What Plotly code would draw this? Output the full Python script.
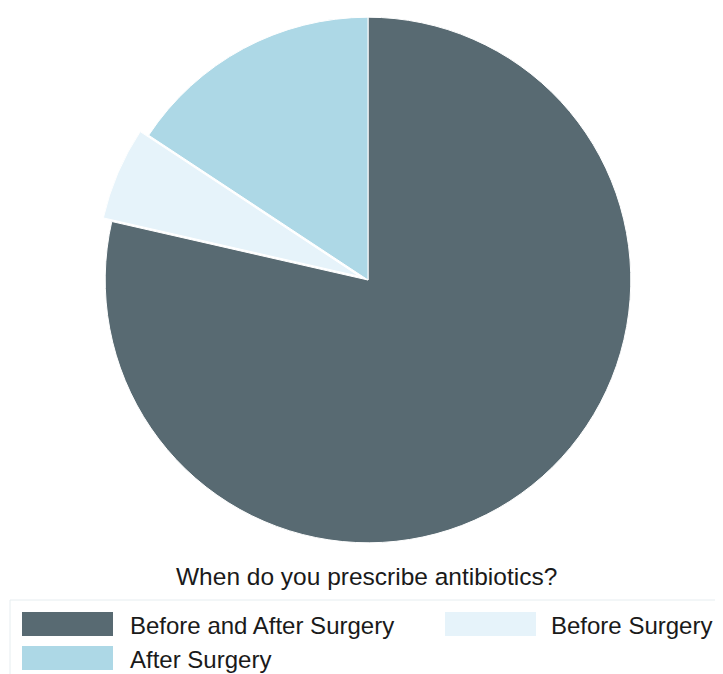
import plotly.graph_objects as go

W, H = 723, 674
OFF = 8  # page body margin offset

labels = ["Before and After Surgery", "Before Surgery", "After Surgery"]
values = [55, 4, 11]
colors = ["#586a72", "#e6f3fa", "#add8e6"]
pulls = [0, 0.035, 0]
title_text = "When do you prescribe antibiotics?"

def px(x):
    return (x - OFF) / W

def py(y):
    return 1 - (y - OFF) / H

cx, cy = 368, 280
half = cy - OFF  # largest half-height that fits above the centre

fig = go.Figure(go.Pie(
    labels=labels,
    values=values,
    sort=False,
    direction="clockwise",
    rotation=0,
    pull=pulls,
    marker=dict(colors=colors, line=dict(color="white", width=1)),
    textinfo="none",
    hoverinfo="label+percent",
    showlegend=False,
    domain=dict(x=[px(cx - half), px(cx + half)], y=[py(cy + half), min(1.0, py(cy - half))]),
))

shapes = []
annotations = []
FONT = "Liberation Sans, Arial, Helvetica, sans-serif"

# legend frame
shapes.append(dict(type="rect", xref="paper", yref="paper",
                   x0=px(10), x1=px(760), y0=py(720), y1=py(600),
                   line=dict(color="#e6edf0", width=1), fillcolor="rgba(0,0,0,0)", layer="below"))

# legend entries: (swatch x0, swatch y0, label x)
positions = {
    0: (22, 612, 128),
    1: (445, 612, 549),
    2: (22, 646, 128),
}
for i, lab in enumerate(labels):
    sx, sy, lx = positions[i]
    shapes.append(dict(type="rect", xref="paper", yref="paper",
                       x0=px(sx), x1=px(sx + 91), y0=py(sy + 24), y1=py(sy),
                       line=dict(width=0), fillcolor=colors[i]))
    annotations.append(dict(text=lab, xref="paper", yref="paper",
                            x=px(lx), y=py(sy + 13), xanchor="left", yanchor="middle",
                            showarrow=False,
                            font=dict(family=FONT, size=24, color="#1a1a1a")))

annotations.append(dict(text=title_text, xref="paper", yref="paper",
                        x=px(366), y=py(576), xanchor="center", yanchor="middle",
                        showarrow=False,
                        font=dict(family=FONT, size=24.5, color="#1a1a1a")))

fig.update_layout(
    width=W, height=H,
    margin=dict(l=0, r=0, t=0, b=0),
    paper_bgcolor="white",
    plot_bgcolor="white",
    shapes=shapes,
    annotations=annotations,
)

fig.write_html("out.html")
